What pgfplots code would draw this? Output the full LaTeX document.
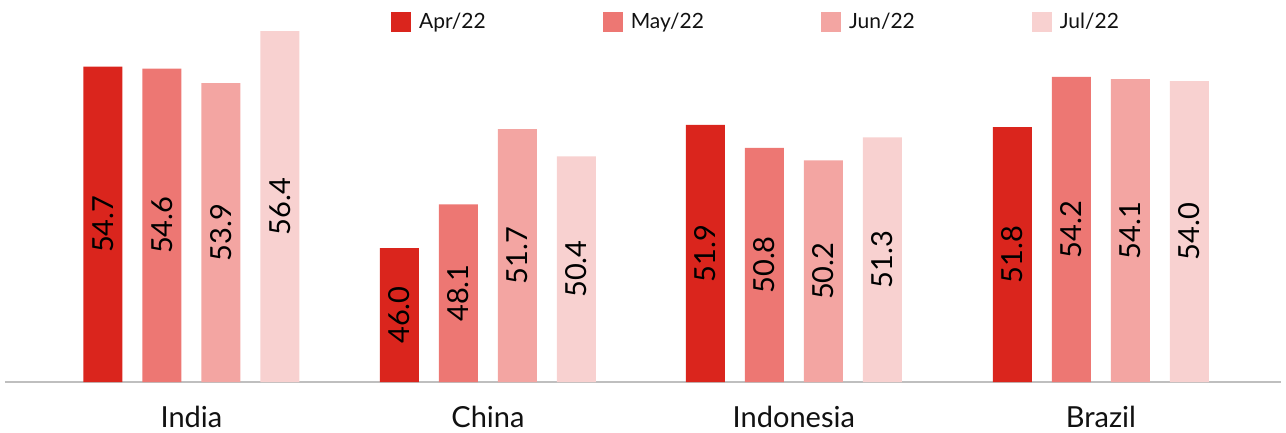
\documentclass[border=0pt]{standalone}
\usepackage{fontspec}
\setmainfont{Lato}
\usepackage{pgfplots}
\pgfplotsset{compat=1.18}
\definecolor{cApr}{HTML}{DA251D}
\definecolor{cMay}{HTML}{ED7773}
\definecolor{cJun}{HTML}{F3A5A2}
\definecolor{cJul}{HTML}{F8D1D0}
\definecolor{axgray}{HTML}{BFBFBF}
\definecolor{txt}{HTML}{111111}
\pgfplotstableread{
x v
0     54.7
0.978 46.0
1.987 51.9
3     51.8
}\apr
\pgfplotstableread{
x v
0     54.6
0.978 48.1
1.987 50.8
3     54.2
}\may
\pgfplotstableread{
x v
0     53.9
0.978 51.7
1.987 50.2
3     54.1
}\jun
\pgfplotstableread{
x v
0     56.4
0.978 50.4
1.987 51.3
3     54.0
}\jul
\begin{document}
\begin{tikzpicture}
\useasboundingbox (0pt,0pt) rectangle (1286pt,432pt);
\begin{axis}[
  at={(5pt,50pt)}, anchor=south west,
  scale only axis, width=1276pt, height=382pt,
  xmin=-0.615, xmax=3.594, ymin=39.58, ymax=57.89,
  /pgf/number format/assume math mode=true,
  axis x line*=bottom, hide y axis,
  x axis line style={-, draw=axgray, line width=1.5pt},
  xtick={0,0.978,1.987,3}, xticklabels={India,China,Indonesia,Brazil},
  major tick length=0pt,
  xticklabel style={font=\fontsize{29}{34}\selectfont, text=txt, inner sep=0pt, yshift=-24pt},
  ybar, bar width=39pt,
  visualization depends on={y \as \rawy},
  nodes near coords={\pgfmathprintnumber[fixed,fixed zerofill,precision=1,assume math mode=true]{\pgfplotspointmeta}},
  every node near coord/.append style={font=\fontsize{29}{34}\selectfont, text=black, anchor=center, yshift={(39.58-\rawy)*10.431pt}, rotate=90},
  legend columns=4,
  legend style={draw=none, fill=none, at={(0.3025,0.9424)}, anchor=west, font=\fontsize{21}{25}\selectfont, text=txt, inner sep=0pt,
    /tikz/every odd column/.append style={column sep=6pt},
    /tikz/every even column/.append style={column sep=115pt}},
  legend image code/.code={\fill[#1] (0pt,-10pt) rectangle (20pt,10pt);},
]
\addplot[fill=cApr, draw=none, bar shift=-88.5pt] table[x=x,y=v] {\apr};
\addplot[fill=cMay, draw=none, bar shift=-29.5pt] table[x=x,y=v] {\may};
\addplot[fill=cJun, draw=none, bar shift=29.5pt] table[x=x,y=v] {\jun};
\addplot[fill=cJul, draw=none, bar shift=88.5pt] table[x=x,y=v] {\jul};
\legend{Apr/22,May/22,Jun/22,Jul/22}
\end{axis}
\end{tikzpicture}
\end{document}
